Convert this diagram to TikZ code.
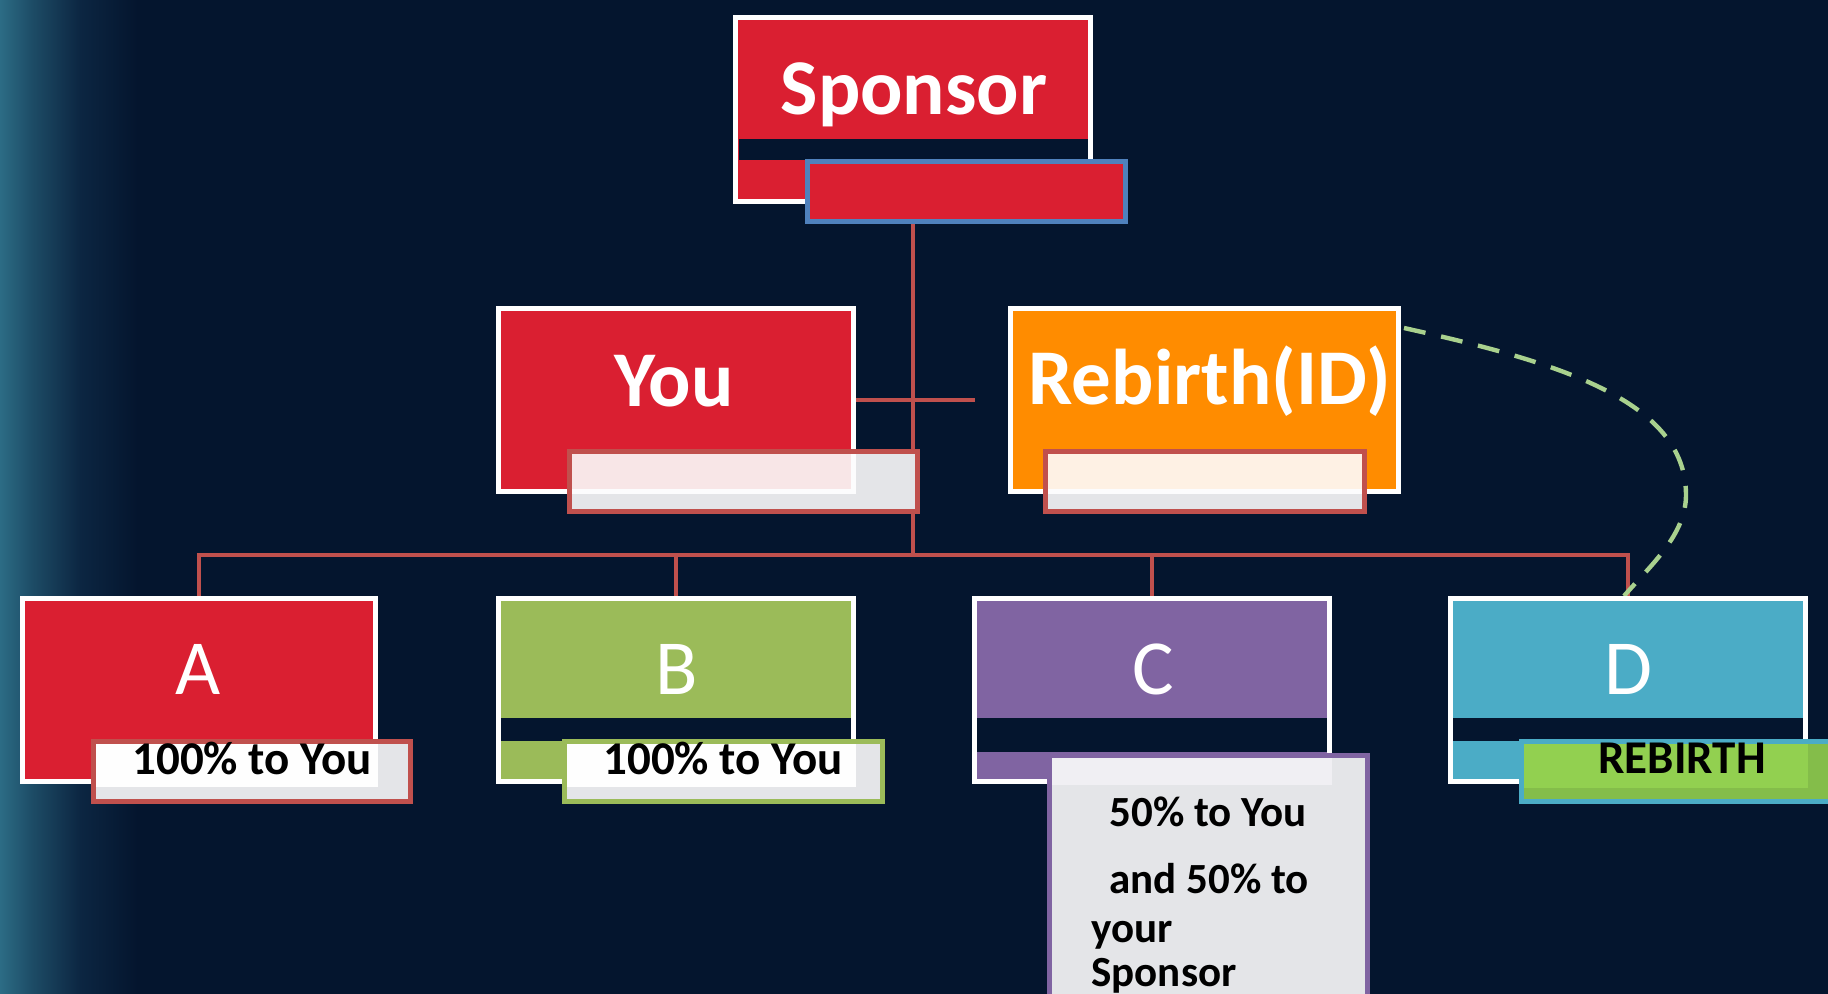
\documentclass[tikz,border=0pt]{standalone}
\usepackage{fontspec}
\setmainfont{Carlito}
\definecolor{bgc}{HTML}{04152E}
\definecolor{cred}{HTML}{DA1F31}
\definecolor{corange}{HTML}{FF8C00}
\definecolor{cgreen}{HTML}{9BBB59}
\definecolor{cpurple}{HTML}{8064A2}
\definecolor{cteal}{HTML}{4BACC6}
\definecolor{linered}{HTML}{C0504D}
\definecolor{cblue}{HTML}{4F81BD}
\definecolor{subgrey}{HTML}{E4E5E8}
\definecolor{youlight}{HTML}{F8E6E7}
\definecolor{rblight}{HTML}{FEF1E4}
\definecolor{clight}{HTML}{F0EFF3}
\definecolor{rebgreen}{HTML}{92D050}
\definecolor{rebdark}{HTML}{84BD4A}
\definecolor{dashgreen}{HTML}{A9D18E}
\definecolor{edgeteal}{HTML}{2C6C85}
\definecolor{midteal}{HTML}{1D4C66}
\definecolor{darkteal}{HTML}{0C2642}
\pgfdeclarehorizontalshading{edgefade}{100bp}{color(0bp)=(edgeteal); color(25bp)=(edgeteal); color(35bp)=(midteal); color(50bp)=(darkteal); color(68bp)=(bgc); color(100bp)=(bgc)}
\pgfdeclarelayer{back}
\pgfdeclarelayer{links}
\pgfsetlayers{back,links,main}
\begin{document}
\begin{tikzpicture}[x=0.5pt,y=-0.5pt,
  box/.style={draw=white,line width=2.5pt,inner sep=0pt,rectangle},
  subbox/.style={line width=2.5pt,inner sep=0pt,rectangle,minimum height=30pt},
  title/.style={text=white,font=\bfseries\fontsize{39.5}{39.5}\selectfont,inner sep=0pt,anchor=base},
  letter/.style={text=white,font=\fontsize{39}{39}\selectfont,inner sep=0pt,anchor=base},
  lbl/.style={text=black,font=\bfseries\fontsize{23.5}{23.5}\selectfont,inner sep=0pt,anchor=base west},
  clbl/.style={text=black,font=\bfseries\fontsize{21.5}{21.5}\selectfont,inner sep=0pt,anchor=base west},
  link/.style={draw=linered,line width=2pt},
  band/.style={fill=bgc}
]
\useasboundingbox (0,0) rectangle (1828,994);
\begin{pgfonlayer}{back}
  \fill[bgc] (0,0) rectangle (1828,994);
  \shade[shading=edgefade] (0,0) rectangle (160,994);
\end{pgfonlayer}

% Sponsor
\node[box,fill=cred,minimum width=177.5pt,minimum height=92pt] (sp) at (913,109.5) {};
\fill[band] (739,139) rectangle (1088,160);
\node[subbox,draw=cblue,fill=cred,minimum width=159pt] (spsub) at (966.5,191.5) {};
\node[title] (sptxt) at (914,115) {Sponsor};

% You
\node[box,fill=cred,minimum width=177.5pt,minimum height=91.5pt] (you) at (676,400) {};
\node[title] (youtxt) at (674,407) {You};
\node[subbox,draw=linered,fill=subgrey,minimum width=174pt] (yousub) at (743.5,481.5) {};
\fill[white!90!subgrey] (572,454) rectangle (856,494);
\fill[youlight] (572,454) rectangle (851,489);

% Rebirth(ID)
\node[box,fill=corange,minimum width=194pt,minimum height=91.5pt] (rb) at (1204.5,400) {};
\node[title] (rbtxt) at (1210,405) {Rebirth(ID)};
\node[subbox,draw=linered,fill=subgrey,minimum width=159.5pt] (rbsub) at (1205,481.5) {};
\fill[white!90!subgrey] (1048,454) rectangle (1362,494);
\fill[rblight] (1048,454) rectangle (1362,489);

% A
\node[box,fill=cred,minimum width=176.5pt,minimum height=91.5pt] (a) at (199,690) {};
\node[letter] (atxt) at (198,695) {A};
\node[subbox,draw=linered,fill=subgrey,minimum width=158.5pt] (asub) at (252,771.5) {};
\fill[white!97!subgrey] (96,744) rectangle (378,787);
\node[lbl] (albl) at (132,775) {100\% to You};

% B
\node[box,fill=cgreen,minimum width=177.5pt,minimum height=91.5pt] (b) at (676,690) {};
\fill[band] (501,718) rectangle (851,741);
\node[letter] (btxt) at (677,695) {B};
\node[subbox,draw=cgreen,fill=subgrey,minimum width=159pt] (bsub) at (723.5,771.5) {};
\fill[white!97!subgrey] (567,744) rectangle (856,787);
\node[lbl] (blbl) at (603,775) {100\% to You};

% C
\node[box,fill=cpurple,minimum width=177.5pt,minimum height=91.5pt] (c) at (1152,690) {};
\fill[band] (977,718) rectangle (1327,752);
\node[letter] (ctxt) at (1153,695) {C};
\node[subbox,draw=cpurple,fill=subgrey,minimum width=159pt,minimum height=126pt] (csub) at (1208.5,881.5) {};
\fill[clight] (1052,758) rectangle (1332,785);
\node[clbl] (c1) at (1109,827) {50\% to You};
\node[clbl] (c2) at (1109,893) {and 50\% to};
\node[clbl] (c3) at (1091,942) {your};
\node[clbl] (c4) at (1091,986) {Sponsor};

% D
\node[box,fill=cteal,minimum width=177.5pt,minimum height=91.5pt] (dd) at (1628,690) {};
\fill[band] (1453,718) rectangle (1803,741);
\node[letter] (dtxt) at (1628,695) {D};
\node[subbox,draw=cteal,fill=rebdark,minimum width=163pt] (dsub) at (1684.5,771.5) {};
\fill[rebgreen] (1524,744) rectangle (1808,788);
\node[lbl] (dlbl) at (1598,774) {REBIRTH};

% connectors
\coordinate (bus) at (913,555);
\coordinate (yend) at (975,400);
\coordinate (bend) at (1686,495);
\begin{pgfonlayer}{links}
  \draw[link] (spsub.south -| sp.center) -- (bus);
  \draw[link] (you.east) -- (yend);
  \draw[link] (a.north) -- (a.north |- bus) -- (dd.north |- bus) -- (dd.north);
  \draw[link] (b.north) -- (b.north |- bus);
  \draw[link] (c.north) -- (c.north |- bus);
  \draw[dashgreen,line width=2.2pt,dash pattern=on 11pt off 8pt]
    ([xshift=1.5pt,yshift=-11pt]rb.north east) .. controls (1557,362) and (1686,400) .. (bend)
    .. controls (1686,535) and (1650,566) .. ([xshift=-2pt]dd.north);
\end{pgfonlayer}
\end{tikzpicture}
\end{document}
